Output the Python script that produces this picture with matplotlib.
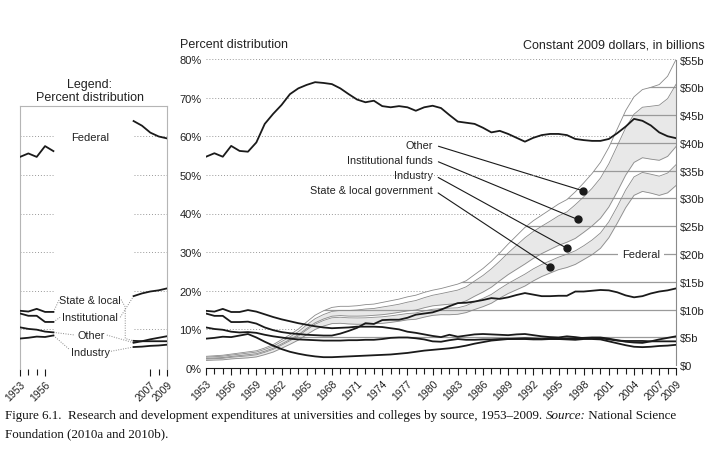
import numpy as np
import matplotlib.pyplot as plt

plt.rcParams['font.family'] = ['Liberation Sans', 'DejaVu Sans']

years = np.arange(1953, 2010)

# percent distribution by source
federal = [54.7, 55.6, 54.7, 57.5, 56.2, 56.0, 58.4, 63.2, 65.8, 68.1,
           70.9, 72.4, 73.3, 74.0, 73.8, 73.5, 72.4, 70.9, 69.5, 68.8,
           69.2, 67.8, 67.5, 67.8, 67.5, 66.6, 67.5, 67.9, 67.3, 65.5,
           63.8, 63.5, 63.2, 62.2, 61.0, 61.4, 60.6, 59.6, 58.6, 59.6,
           60.3, 60.6, 60.6, 60.3, 59.3, 59.0, 58.8, 58.8, 59.3, 60.8,
           62.5, 64.5, 64.0, 62.8, 61.0, 60.0, 59.5]
state_local = [14.8, 14.6, 15.3, 14.5, 14.5, 15.0, 14.6, 13.9, 13.2, 12.6,
               12.1, 11.6, 11.2, 10.8, 10.5, 10.3, 10.4, 10.5, 10.7, 10.7,
               10.7, 10.6, 10.3, 10.0, 9.4, 9.1, 8.7, 8.3, 8.0, 8.6,
               8.1, 8.4, 8.7, 8.8, 8.7, 8.6, 8.5, 8.7, 8.8, 8.5,
               8.2, 8.0, 7.9, 8.2, 8.0, 7.7, 7.8, 7.7, 7.4, 7.1,
               7.0, 7.0, 7.0, 6.9, 6.9, 6.9, 6.9]
industry = [7.6, 7.8, 8.1, 8.0, 8.4, 8.8, 7.9, 6.8, 5.8, 4.9,
            4.2, 3.7, 3.3, 3.0, 2.8, 2.8, 2.9, 3.0, 3.1, 3.2,
            3.3, 3.4, 3.5, 3.7, 3.9, 4.2, 4.5, 4.7, 4.9, 5.1,
            5.4, 5.8, 6.3, 6.7, 7.1, 7.3, 7.5, 7.5, 7.5, 7.4,
            7.4, 7.5, 7.5, 7.4, 7.3, 7.5, 7.5, 7.4, 6.9, 6.4,
            5.9, 5.5, 5.4, 5.5, 5.7, 5.8, 6.0]
institutional = [14.1, 13.5, 13.5, 11.9, 11.9, 12.0, 11.5, 10.5, 9.8, 9.3,
                 9.0, 8.8, 8.6, 8.5, 8.4, 8.4, 8.9, 9.6, 10.4, 11.6,
                 11.4, 12.4, 12.5, 12.5, 13.0, 13.8, 14.1, 14.4, 15.1, 16.0,
                 16.8, 16.9, 17.2, 17.6, 18.1, 17.9, 18.3, 18.9, 19.4, 19.0,
                 18.6, 18.6, 18.7, 18.7, 19.8, 19.8, 20.0, 20.2, 20.1, 19.6,
                 18.8, 18.3, 18.6, 19.3, 19.8, 20.1, 20.6]
other = [10.5, 10.1, 9.9, 9.4, 9.2, 9.3, 9.1, 8.6, 8.2, 7.9,
         7.6, 7.4, 7.3, 7.2, 7.1, 7.1, 7.1, 7.2, 7.2, 7.3,
         7.3, 7.5, 7.8, 7.9, 7.9, 7.7, 7.4, 6.9, 6.8, 7.2,
         7.5, 7.3, 7.3, 7.4, 7.4, 7.5, 7.5, 7.6, 7.7, 7.6,
         7.5, 7.6, 7.5, 7.6, 7.6, 7.8, 7.9, 7.9, 7.6, 7.2,
         6.8, 6.6, 6.5, 6.9, 7.4, 7.8, 8.2]

# total expenditures, constant 2009 dollars (billions)
total_billions = [1.6, 1.7, 1.8, 2.0, 2.2, 2.4, 2.6, 3.1, 3.7, 4.6,
                  5.5, 6.5, 7.8, 9.0, 9.8, 10.4, 10.6, 10.6, 10.7, 10.9,
                  11.0, 11.3, 11.6, 11.9, 12.3, 12.6, 13.1, 13.5, 13.8, 14.2,
                  14.6, 15.2, 16.3, 17.4, 18.7, 20.2, 21.8, 23.3, 24.8, 26.0,
                  27.0, 28.0, 29.0, 29.8, 31.2, 32.8, 34.5, 36.5, 39.2, 42.5,
                  45.8, 48.3, 49.6, 50.0, 50.5, 52.0, 55.0]

# stacking order: Federal, State & local, Industry, Institutional, Other
shares = np.array([federal, state_local, industry, institutional, other])
stack = np.cumsum(shares, axis=0) / shares.sum(axis=0) * np.array(total_billions)

W, H = 709, 452
def fx(px):
    return px / W
def fy(py):
    return 1 - py / H

BLACK = '#1a1a1a'
TXT = '#222222'

fig = plt.figure(figsize=(W / 100, H / 100), dpi=100)

# ---------------- main chart ----------------
ax = fig.add_axes([fx(206), fy(369), 470 / W, 309 / H])
ax2 = ax.twinx()
ax.set_zorder(ax2.get_zorder() + 1)
ax.patch.set_visible(False)

ax.set_xlim(1953, 2009)
ax.set_ylim(0, 80)
ax2.set_ylim(-0.5, 55.1)

# stacked dollar bands
ax2.fill_between(years, stack[0], stack[1], color='#e8e8e8', lw=0, zorder=1)
ax2.fill_between(years, stack[2], stack[3], color='#e8e8e8', lw=0, zorder=1)
for row in stack:
    ax2.plot(years, row, color='#8a8a8a', lw=0.6, zorder=2)

under = ax2.fill_between(years, -1, stack[-1], color='none', lw=0)
over = ax2.fill_between(years, stack[-1], 60, color='none', lw=0)
under_path = under.get_paths()[0]
over_path = over.get_paths()[0]

# solid dollar grid only inside the stacked area
for v in range(5, 55, 5):
    ln = ax2.axhline(v, color='#9a9a9a', lw=0.9, zorder=1.5)
    ln.set_clip_path(under_path, ax2.transData)

# dotted percent grid only above it
for v in range(10, 81, 10):
    ln = ax.axhline(v, color='#999999', lw=0.7, ls=(0, (1, 2)), zorder=0)
    ln.set_clip_path(over_path, ax2.transData)

# percent lines
for s in shares:
    ax.plot(years, s, color=BLACK, lw=1.3, zorder=3)

ax.set_yticks(range(0, 81, 10))
ax.set_yticklabels([f'{v}%' for v in range(0, 81, 10)], fontsize=8, color=TXT)
ax2.set_yticks(range(0, 56, 5))
ax2.set_yticklabels(['$0'] + [f'${v}b' for v in range(5, 56, 5)], fontsize=8, color=TXT)
ax.tick_params(axis='y', length=0, pad=3)
ax2.tick_params(axis='y', length=0, pad=3)

major = list(range(1953, 2008, 3)) + [2009]
ax.set_xticks(major)
ax.set_xticklabels([str(y) for y in major], rotation=45, ha='right',
                   rotation_mode='anchor', fontsize=7.5, color=TXT)
ax.set_xticks(years, minor=True)
ax.tick_params(axis='x', which='major', length=5, width=0.8, pad=2, color=BLACK)
ax.tick_params(axis='x', which='minor', length=4, width=0.8, color=BLACK)

for a in (ax, ax2):
    for side in ('top', 'left', 'right'):
        a.spines[side].set_visible(False)
ax2.spines['bottom'].set_visible(False)
ax.spines['bottom'].set_color(BLACK)
ax.spines['bottom'].set_linewidth(0.8)
ax2.spines['right'].set_visible(True)
ax2.spines['right'].set_color('#8a8a8a')
ax2.spines['right'].set_linewidth(0.8)
ax2.spines['right'].set_bounds(0, 55)

ax2.text(2004.8, 20, 'Federal', ha='center', va='center', fontsize=8, color=TXT,
         bbox=dict(fc='white', ec='none', pad=3), zorder=4)

# band labels with leaders
labels = ['Other', 'Institutional funds', 'Industry', 'State & local government']
bands = [(3, 4), (2, 3), (1, 2), (0, 1)]
dot_years = [1997.9, 1997.3, 1996.0, 1994.0]
label_y = [39.7, 37.0, 34.3, 31.6]
for lab, (lo, hi), dx, ly in zip(labels, bands, dot_years, label_y):
    dy = np.interp(dx, years, (stack[lo] + stack[hi]) / 2)
    ax2.plot(dx, dy, 'o', color=BLACK, ms=5, zorder=5)
    ax2.annotate(lab, xy=(dx, dy), xytext=(1980.05, ly), ha='right', va='center',
                 fontsize=7.8, color=TXT, zorder=5,
                 arrowprops=dict(arrowstyle='-', color=BLACK, lw=0.8,
                                 relpos=(1, 0.5), shrinkA=2, shrinkB=0))

fig.text(fx(180), fy(45), 'Percent distribution', fontsize=9, color=TXT, va='center')
fig.text(fx(705), fy(45), 'Constant 2009 dollars, in billions', fontsize=9,
         color=TXT, va='center', ha='right')

# ---------------- legend panel ----------------
axl = fig.add_axes([fx(20), fy(370), 147 / W, 263 / H])
axl.set_xlim(0, 17.6)
axl.set_ylim(-0.3, 67.9)
xl = years[:5] - 1953
xr = years[-5:] - 1991.4
for v in range(10, 70, 10):
    axl.plot([xl[0], xl[-1]], [v, v], color='#999999', lw=0.7, ls=(0, (1, 2)), zorder=0)
    axl.plot([xr[0], xr[-1]], [v, v], color='#999999', lw=0.7, ls=(0, (1, 2)), zorder=0)
for s in shares:
    axl.plot(xl, s[:5], color=BLACK, lw=1.3, zorder=3)
    axl.plot(xr, s[-5:], color=BLACK, lw=1.3, zorder=3)

axl.set_xticks([0, 3, 15.6, 17.6])
axl.set_xticklabels(['1953', '1956', '2007', '2009'], rotation=45, ha='right',
                    rotation_mode='anchor', fontsize=7.5, color=TXT)
axl.set_xticks([1, 2, 16.6], minor=True)
axl.tick_params(axis='x', which='major', length=5, width=0.8, pad=2, color=BLACK)
axl.tick_params(axis='x', which='minor', length=4, width=0.8, color=BLACK)
axl.set_yticks([])
for side in axl.spines:
    axl.spines[side].set_color('#b5b5b5')
    axl.spines[side].set_linewidth(0.8)
axl.spines['bottom'].set_visible(False)

lead = dict(color='#888888', lw=0.7, ls=(0, (1, 1.5)), zorder=2)
axl.text(8.4, 59.8, 'Federal', ha='center', va='center', fontsize=8, color=TXT)
axl.text(8.4, 17.7, 'State & local', ha='center', va='center', fontsize=7.8, color=TXT)
axl.text(8.4, 13.1, 'Institutional', ha='center', va='center', fontsize=7.8, color=TXT)
axl.text(8.5, 8.5, 'Other', ha='center', va='center', fontsize=7.8, color=TXT)
axl.text(8.4, 4.2, 'Industry', ha='center', va='center', fontsize=7.8, color=TXT)

axl.plot([xl[-1], 4.7], [state_local[4], 17.7], **lead)
axl.plot([12.1, 12.6, 12.6, xr[0]], [17.7, 15.8, 7.6, state_local[-5]], **lead)
axl.plot([xl[-1], 4.8], [institutional[4], 13.1], **lead)
axl.plot([12.0, xr[0]], [13.1, institutional[-5]], **lead)
axl.plot([xl[-1], 6.6], [other[4], 8.5], **lead)
axl.plot([10.4, xr[0]], [8.5, other[-5]], **lead)
axl.plot([xl[-1], 5.9], [industry[4], 4.8], **lead)
axl.plot([10.9, xr[0]], [4.3, industry[-5]], **lead)

fig.text(fx(90), fy(85), 'Legend:', ha='center', va='center', fontsize=9, color=TXT)
fig.text(fx(90), fy(98), 'Percent distribution', ha='center', va='center',
         fontsize=9, color=TXT)

# ---------------- caption ----------------
serif = ['Liberation Serif', 'DejaVu Serif']
cap = dict(family=serif, fontsize=9.4, color='#111111')
t1 = fig.text(fx(5), fy(419), 'Figure 6.1.  Research and development expenditures at '
              'universities and colleges by source, 1953\u20132009. ',
              va='baseline', **cap)
t2 = fig.text(0, 0, '', **cap)
t2 = plt.annotate('Source:', xy=(1, 0), xycoords=t1, va='bottom', ha='left',
                  style='italic', annotation_clip=False, **cap)
plt.annotate(' National Science', xy=(1, 0), xycoords=t2, va='bottom', ha='left',
             annotation_clip=False, **cap)
fig.text(fx(5), fy(437), 'Foundation (2010a and 2010b).', va='baseline', **cap)

fig.savefig('out.png', dpi=100)
